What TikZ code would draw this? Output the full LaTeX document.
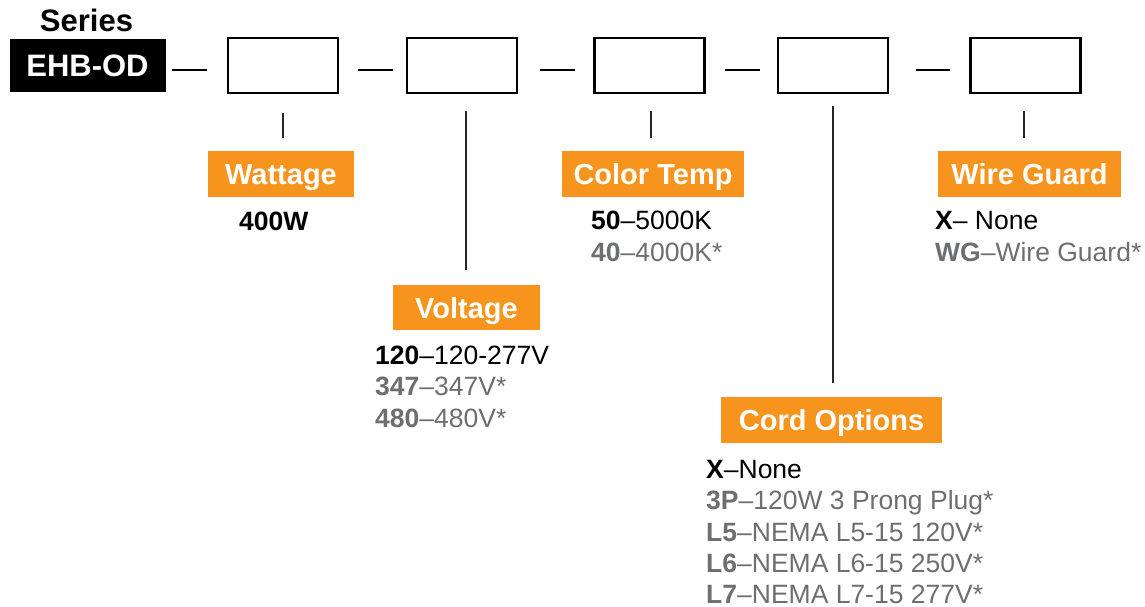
\documentclass[tikz,border=0pt]{standalone}
\usepackage{fontspec}
\setmainfont{Liberation Sans}
\definecolor{orng}{HTML}{F7941D}
\definecolor{gry}{HTML}{6D6E71}
\begin{document}
\begin{tikzpicture}[x=1pt,y=-1pt,
  codebox/.style={draw=black,line width=2.6pt,minimum width=110pt,minimum height=55pt,inner sep=0pt},
  lbl/.style={fill=orng,text=white,font=\fontsize{29}{32}\selectfont\bfseries,inner sep=0pt,minimum height=46pt,text height=23.5pt,text depth=2.5pt},
  item/.style={anchor=base west,inner sep=0pt,font=\fontsize{26.5}{30}\selectfont},
  dim/.style={text=gry},
  dashline/.style={line width=2.5pt},
  vline/.style={line width=1.8pt,draw=black!85}]
\useasboundingbox (0,0) rectangle (1145,607);
% series
\node[font=\fontsize{31}{34}\selectfont\bfseries,anchor=base] (ser) at (86.5,32) {Series};
\node[fill=black,text=white,font=\fontsize{31}{34}\selectfont\bfseries,minimum width=156pt,minimum height=53pt,inner sep=0pt] (ehb) at (87.5,65.5) {EHB-OD};
% boxes
\node[codebox] (b1) at (283,65.5) {};
\node[codebox] (b2) at (462,65.5) {};
\node[codebox] (b3) at (649.5,65.5) {};
\node[codebox] (b4) at (833,65.5) {};
\node[codebox] (b5) at (1025.5,65.5) {};
% dashes
\coordinate (d1a) at (172,70); \coordinate (d1b) at (207,70);
\coordinate (d2a) at (358,70); \coordinate (d2b) at (393,70);
\coordinate (d3a) at (540,70); \coordinate (d3b) at (575,70);
\coordinate (d4a) at (725,70); \coordinate (d4b) at (760,70);
\coordinate (d5a) at (916,70); \coordinate (d5b) at (950,70);
\draw[dashline] (d1a) -- (d1b);
\draw[dashline] (d2a) -- (d2b);
\draw[dashline] (d3a) -- (d3b);
\draw[dashline] (d4a) -- (d4b);
\draw[dashline] (d5a) -- (d5b);
% labels
\node[lbl,minimum width=146pt] (wat) at (281,174) {Wattage};
\node[lbl,minimum width=147pt,minimum height=45pt] (vol) at (466.5,307.5) {Voltage};
\node[lbl,minimum width=182pt] (ct) at (653,174) {Color Temp};
\node[lbl,minimum width=221pt] (cord) at (831.5,420) {Cord Options};
\node[lbl,minimum width=183pt] (wg) at (1029.5,174) {Wire Guard};
% vertical connectors
\draw[vline] ([yshift=-19pt]b1.south) -- ([yshift=13pt]b1.south |- wat.north);
\draw[vline] ([xshift=4pt,yshift=-17pt]b2.south) -- ([xshift=4pt,yshift=15pt]b2.south |- vol.north);
\draw[vline] ([xshift=1.5pt,yshift=-17pt]b3.south) -- ([xshift=1.5pt,yshift=13pt]b3.south |- ct.north);
\draw[vline] ([yshift=-12pt]b4.south) -- ([yshift=14pt]b4.south |- cord.north);
\draw[vline] ([xshift=-1.5pt,yshift=-17pt]b5.south) -- ([xshift=-1.5pt,yshift=13pt]b5.south |- wg.north);
% lists
\node[item] (w1) at (239,230) {\textbf{400W}};
\node[item] (v1) at (375,364) {\textbf{120}–120-277V};
\node[item,dim] (v2) at (375,395.5) {\textbf{347}–347V*};
\node[item,dim] (v3) at (375,427) {\textbf{480}–480V*};
\node[item] (c1) at (591,229) {\textbf{50}–5000K};
\node[item,dim] (c2) at (591,261) {\textbf{40}–4000K*};
\node[item] (g1) at (935,229) {\textbf{X}– None};
\node[item,dim] (g2) at (935,261) {\textbf{WG}–Wire Guard*};
\node[item] (o1) at (706,478) {\textbf{X}–None};
\node[item,dim] (o2) at (706,509.5) {\textbf{3P}–120W 3 Prong Plug*};
\node[item,dim] (o3) at (706,541) {\textbf{L5}–NEMA L5-15 120V*};
\node[item,dim] (o4) at (706,572) {\textbf{L6}–NEMA L6-15 250V*};
\node[item,dim] (o5) at (706,603) {\textbf{L7}–NEMA L7-15 277V*};
\end{tikzpicture}
\end{document}
